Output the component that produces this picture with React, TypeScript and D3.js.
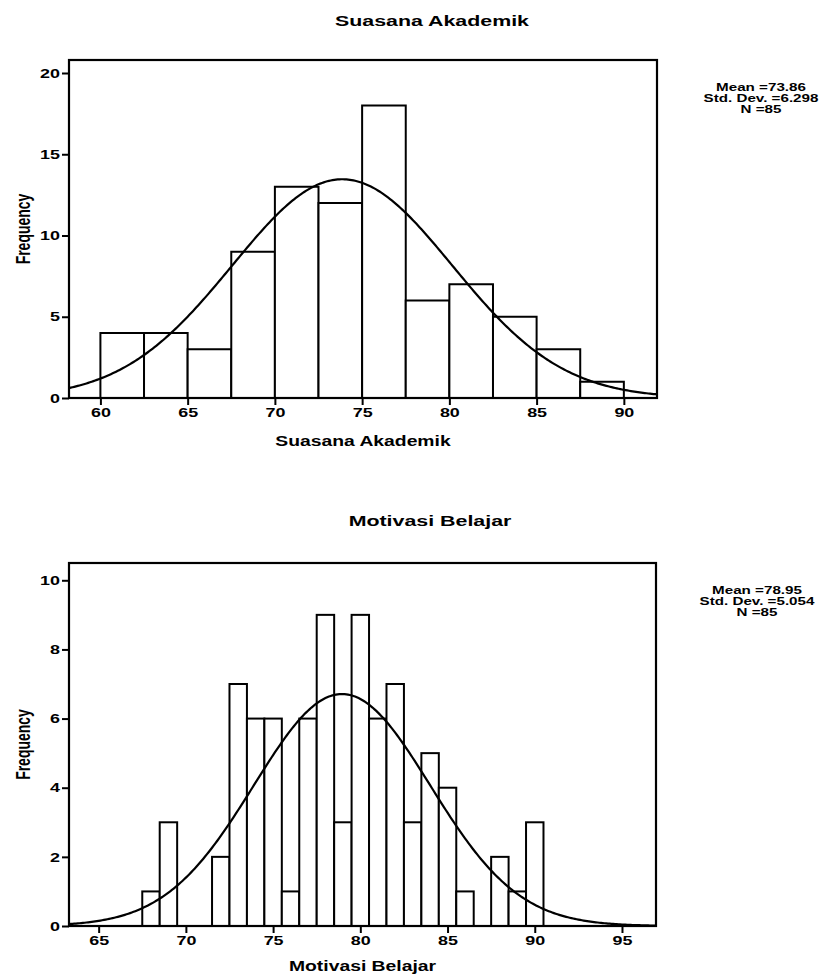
import { useRef, useEffect } from 'react';
import * as d3 from 'd3';

// Suasana Akademik histogram (bin width 2.5)
const suasanaEdges = [60, 62.5, 65, 67.5, 70, 72.5, 75, 77.5, 80, 82.5, 85, 87.5];
const suasanaCounts = [4, 4, 3, 9, 13, 12, 18, 6, 7, 5, 3, 1];
const suasanaXTicks = [60, 65, 70, 75, 80, 85, 90];
const suasanaYTicks = [0, 5, 10, 15, 20];
const suasanaStats = ['Mean =73.86', 'Std. Dev. =6.298', 'N =85'];

// Motivasi Belajar histogram (bin width 1)
const motivasiEdges = [67.5, 68.5, 71.5, 72.5, 73.5, 74.5, 75.5, 76.5, 77.5, 78.5, 79.5, 80.5, 81.5, 82.5, 83.5, 84.5, 85.5, 87.5, 88.5, 89.5];
const motivasiCounts = [1, 3, 2, 7, 6, 6, 1, 6, 9, 3, 9, 6, 7, 3, 5, 4, 1, 2, 1, 3];
const motivasiXTicks = [65, 70, 75, 80, 85, 90, 95];
const motivasiYTicks = [0, 2, 4, 6, 8, 10];
const motivasiStats = ['Mean =78.95', 'Std. Dev. =5.054', 'N =85'];

const FONT = '"Liberation Sans", Arial, sans-serif';
const SX = 1.38; // the scanned text is wide

function drawHist(svg, o) {
  const x = d3.scaleLinear().domain(o.xDomain).range([o.left, o.right]);
  const y = d3.scaleLinear().domain(o.yDomain).range([o.bottom, o.top]);
  const g = svg.append('g');

  g.selectAll('.bar').data(o.edges.map((e, i) => ({ e, c: o.counts[i] }))).join('rect')
    .attr('x', d => x(d.e)).attr('width', d => x(d.e + o.binW) - x(d.e))
    .attr('y', d => y(d.c)).attr('height', d => y(0) - y(d.c))
    .attr('fill', '#fff').attr('stroke', '#000').attr('stroke-width', 2);

  const dens = v => o.n * o.binW * Math.exp(-0.5 * ((v - o.mean) / o.sd) ** 2) / (o.sd * Math.sqrt(2 * Math.PI));
  const xs = d3.range(o.xDomain[0], o.xDomain[1], 0.1).concat([o.xDomain[1]]);
  g.append('path').attr('d', d3.line().x(v => x(v)).y(v => y(dens(v)))(xs))
    .attr('fill', 'none').attr('stroke', '#000').attr('stroke-width', 2.2);

  g.append('rect').attr('x', o.left).attr('y', o.top)
    .attr('width', o.right - o.left).attr('height', o.bottom - o.top)
    .attr('fill', 'none').attr('stroke', '#000').attr('stroke-width', 2.2);

  g.append('g').attr('transform', `translate(${o.left},0)`)
    .call(d3.axisLeft(y).tickValues(o.yTicks).tickSize(7).tickPadding(2)).call(styled)
    .call(a => a.selectAll('text').attr('x', -9 / SX));
  g.append('g').attr('transform', `translate(0,${o.bottom})`)
    .call(d3.axisBottom(x).tickValues(o.xTicks).tickSize(7).tickPadding(3)).call(styled);

  const txt = (s, tx, ty, size, rot = false) => g.append('text')
    .attr('transform', `translate(${tx},${ty}) scale(${SX},1)${rot ? ' rotate(-90)' : ''}`)
    .attr('text-anchor', 'middle').attr('font-family', FONT).attr('font-weight', 'bold')
    .attr('font-size', size).attr('fill', '#000').text(s);

  txt(o.title, o.titleX, o.titleY, 15.5);
  txt(o.xLabel, (o.left + o.right) / 2, o.bottom + o.xLabelDy, 14);
  txt('Frequency', 30, (o.top + o.bottom) / 2, 14, true);
  o.stats.forEach((s, i) => txt(s, o.statsX, o.top + 31 + i * 11, 11));
}

function styled(a) {
  a.select('.domain').remove();
  a.selectAll('.tick line').attr('stroke', '#000').attr('stroke-width', 2);
  a.selectAll('text').attr('fill', '#000').attr('font-size', 13).attr('font-weight', 'bold')
    .attr('font-family', FONT).attr('transform', `scale(${SX},1)`);
}

export default function App() {
  const ref = useRef(null);
  useEffect(() => {
    const svg = d3.select(ref.current);
    svg.selectAll('*').remove();
    drawHist(svg, {
      left: 69, right: 657, top: 60, bottom: 398,
      xDomain: [58.2, 91.9], yDomain: [0, 20.8],
      xTicks: suasanaXTicks, yTicks: suasanaYTicks,
      edges: suasanaEdges, counts: suasanaCounts, binW: 2.5,
      mean: 73.86, sd: 6.298, n: 85, stats: suasanaStats, statsX: 761,
      title: 'Suasana Akademik', titleX: 432, titleY: 26,
      xLabel: 'Suasana Akademik', xLabelDy: 48,
    });
    drawHist(svg, {
      left: 69, right: 656, top: 563, bottom: 926,
      xDomain: [63.3, 96.95], yDomain: [0, 10.5],
      xTicks: motivasiXTicks, yTicks: motivasiYTicks,
      edges: motivasiEdges, counts: motivasiCounts, binW: 1,
      mean: 78.95, sd: 5.054, n: 85, stats: motivasiStats, statsX: 757,
      title: 'Motivasi Belajar', titleX: 430, titleY: 526,
      xLabel: 'Motivasi Belajar', xLabelDy: 45,
    });
  }, []);

  return (
    <div style={{ position: 'absolute', left: 0, top: 0, width: 822, height: 978, background: '#fff' }}>
      <svg ref={ref} width={822} height={978} />
    </div>
  );
}
